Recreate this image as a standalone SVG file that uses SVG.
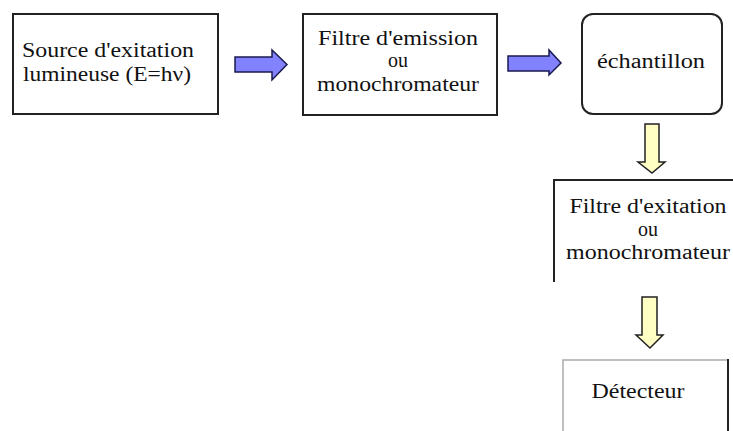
<svg xmlns="http://www.w3.org/2000/svg" width="733" height="431" viewBox="0 0 733 431">
<style>
.box{fill:#fff;stroke:#222;stroke-width:2}
.t{font-family:"Liberation Serif","Times New Roman",serif;font-size:20px;fill:#111;text-anchor:middle}
.blue{fill:#8282ff;stroke:#1a1a50;stroke-width:1.5;stroke-linejoin:miter}
.yel{fill:#ffffc4;stroke:#222;stroke-width:1.5;stroke-linejoin:miter}
</style>
<rect width="733" height="431" fill="#fff"/>
<g id="source">
<rect class="box" x="13" y="14" width="205" height="100"/>
<text class="t" x="108" y="57" textLength="172" lengthAdjust="spacingAndGlyphs">Source d'exitation</text>
<text class="t" x="107" y="81" textLength="168" lengthAdjust="spacingAndGlyphs">lumineuse (E=hν)</text>
</g>
<g id="filtre-emission">
<rect class="box" x="303" y="14" width="194" height="101"/>
<text class="t" x="398" y="45" textLength="160" lengthAdjust="spacingAndGlyphs">Filtre d'emission</text>
<text class="t" x="398" y="67">ou</text>
<text class="t" x="398" y="91" textLength="162" lengthAdjust="spacingAndGlyphs">monochromateur</text>
</g>
<g id="echantillon">
<rect class="box" x="582" y="14" width="140" height="100" rx="11" ry="11"/>
<text class="t" x="651" y="68" textLength="108" lengthAdjust="spacingAndGlyphs">échantillon</text>
</g>
<g id="filtre-excitation">
<path d="M735,180 H554 V282" fill="none" stroke="#222" stroke-width="2"/>
<text class="t" x="648" y="213" textLength="157" lengthAdjust="spacingAndGlyphs">Filtre d'exitation</text>
<text class="t" x="648" y="236">ou</text>
<text class="t" x="648" y="259" textLength="164" lengthAdjust="spacingAndGlyphs">monochromateur</text>
</g>
<g id="detecteur">
<path d="M563,433 V360 H728" fill="none" stroke="#aaa" stroke-width="1.5"/>
<path d="M728,359 V433" fill="none" stroke="#222" stroke-width="2"/>
<text class="t" x="638" y="398" textLength="93" lengthAdjust="spacingAndGlyphs">Détecteur</text>
</g>
<g id="connectors">
<polygon class="blue" points="235,57 272,57 272,50 287,64.5 272,80 272,72 235,72"/>
<polygon class="blue" points="508,56 549,56 549,50 561,63 549,75 549,71 508,71"/>
<polygon class="yel" points="645,124 659,124 659,162 665,162 652,173 638,162 645,162"/>
<polygon class="yel" points="642,297 657,297 657,335 663,335 650,348 636,335 642,335"/>
</g>
</svg>
